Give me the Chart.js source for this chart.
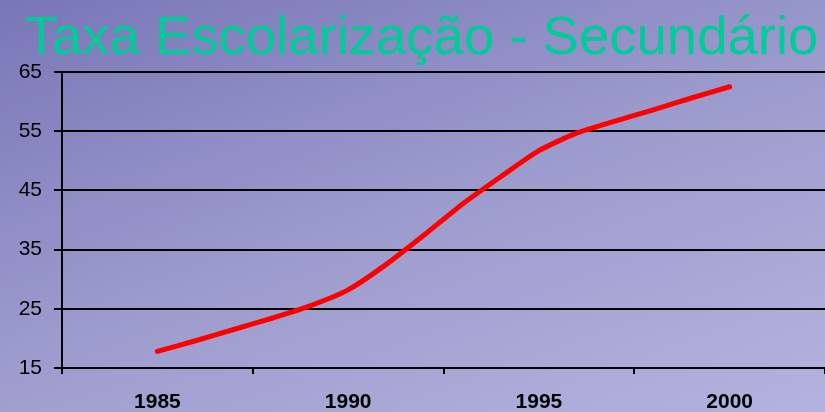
<!DOCTYPE html>
<html>
<head>
<meta charset="utf-8">
<script src="https://cdn.jsdelivr.net/npm/chart.js@4"></script>
<style>
  html, body { margin: 0; padding: 0; }
  body {
    width: 825px; height: 412px; overflow: hidden;
    background: linear-gradient(160deg, #7976b7 0%, #9c9bcd 50%, #b4b3df 100%);
  }
  #wrap { width: 825px; height: 412px; }
</style>
</head>
<body>
<div id="wrap"><canvas id="chart" width="825" height="412"></canvas></div>
<script>
// Taxa de escolarização (secundário), yearly
const years = [1985, 1986, 1987, 1988, 1989, 1990, 1991, 1992, 1993, 1994, 1995, 1996, 1997, 1998, 1999, 2000];
const taxa = [17.8, 19.6, 21.5, 23.4, 25.5, 28.2, 32.5, 37.5, 42.7, 47.3, 51.7, 54.7, 56.7, 58.6, 60.6, 62.5];
const yearLabels = [1985, 1990, 1995, 2000];
const yTicks = [15, 25, 35, 45, 55, 65];

const font = "'Liberation Sans', Arial, sans-serif";

new Chart(document.getElementById("chart"), {
  type: "line",
  data: {
    datasets: [
      {
        label: "Secundário",
        data: years.map((y, i) => ({ x: y, y: taxa[i] })),
        borderColor: "#ff0000",
        borderWidth: 5,
        borderCapStyle: "round",
        borderJoinStyle: "round",
        pointRadius: 0,
        tension: 0.2,
        fill: false,
      },
    ],
  },
  options: {
    responsive: false,
    animation: false,
    // left padding shifts the title centre right, like the original
    layout: { padding: { left: 18, right: 0, top: 0, bottom: 0 } },
    plugins: {
      legend: { display: false },
      tooltip: { enabled: false },
      title: {
        display: true,
        text: "Taxa Escolarização - Secundário",
        color: "#00cc99",
        font: { family: font, size: 54.5, weight: "normal", lineHeight: 1.1 },
        padding: { top: 9, bottom: 3 },
      },
    },
    scales: {
      x: {
        type: "linear",
        min: 1982.5,
        max: 2002.5,
        afterBuildTicks: (s) => {
          const t = [];
          for (let v = 1982.5; v <= 2002.5; v += 2.5) t.push({ value: v });
          s.ticks = t;
        },
        afterFit: (s) => {
          s.height = 44;
          s.paddingLeft = 0;
          s.paddingRight = 0;
        },
        grid: {
          drawOnChartArea: false,
          drawTicks: true,
          tickLength: 6,
          lineWidth: 2,
          color: (c) => (c.tick && yearLabels.includes(c.tick.value) ? "rgba(0,0,0,0)" : "#000"),
        },
        border: { display: true, color: "#000", width: 2 },
        ticks: {
          autoSkip: false,
          maxRotation: 0,
          padding: 16,
          color: "#000",
          font: { family: font, size: 21, weight: "bold" },
          callback: (v) => (yearLabels.includes(v) ? String(v) : ""),
        },
      },
      y: {
        min: 15,
        max: 65,
        afterBuildTicks: (s) => { s.ticks = yTicks.map((v) => ({ value: v })); },
        afterFit: (s) => { s.width = 44; },
        grid: { color: "#000", lineWidth: 2, tickLength: 8 },
        border: { display: true, color: "#000", width: 2 },
        ticks: {
          padding: 12,
          color: "#000",
          font: { family: font, size: 21 },
        },
      },
    },
  },
});
</script>
</body>
</html>
